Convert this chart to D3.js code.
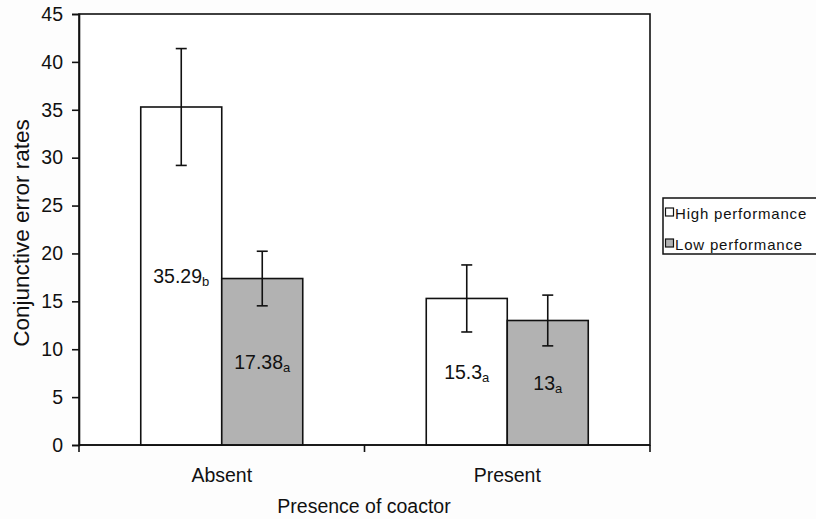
<!DOCTYPE html>
<html>
<head>
<meta charset="utf-8">
<script src="https://cdn.jsdelivr.net/npm/d3@7"></script>
<style>
  html, body { margin: 0; padding: 0; background: #fdfdfd; }
  svg { display: block; }
  text { font-family: Arial, "Liberation Sans", sans-serif; fill: #111; }
</style>
</head>
<body>
<svg id="chart" width="816" height="519"></svg>
<script>
const categories = ["Absent", "Present"];
const seriesNames = ["High performance", "Low performance"];
const seriesColors = ["#ffffff", "#b2b2b2"];
const highValues = [35.29, 15.3];
const lowValues = [17.38, 13];
const highErrors = [6.1, 3.5];
const lowErrors = [2.85, 2.65];
const highLabels = ["35.29", "15.3"];
const lowLabels = ["17.38", "13"];
const highSubs = ["b", "a"];
const lowSubs = ["a", "a"];
const yTicks = [0, 5, 10, 15, 20, 25, 30, 35, 40, 45];

const svg = d3.select("#chart");
const plotLeft = 79, plotRight = 650, plotTop = 14, plotBottom = 445;
const FONT = 19.5;

const x = d3.scaleBand().domain(categories).range([plotLeft, plotRight]).paddingInner(0).paddingOuter(0);
const y = d3.scaleLinear().domain([0, 45]).range([plotBottom, plotTop]);
const barW = 81;

// plot area
svg.append("rect").attr("x", plotLeft).attr("y", plotTop).attr("width", plotRight - plotLeft).attr("height", plotBottom - plotTop)
  .attr("fill", "#ffffff").attr("stroke", "#111").attr("stroke-width", 1.6);

const series = [
  {vals: highValues, errs: highErrors, labs: highLabels, subs: highSubs, off: -barW, color: seriesColors[0]},
  {vals: lowValues, errs: lowErrors, labs: lowLabels, subs: lowSubs, off: 0, color: seriesColors[1]}
];

series.forEach(s => {
  categories.forEach((c, i) => {
    const cx = x(c) + x.bandwidth() / 2 + s.off;
    svg.append("rect").attr("x", cx).attr("y", y(s.vals[i])).attr("width", barW)
      .attr("height", y(0) - y(s.vals[i])).attr("fill", s.color).attr("stroke", "#111").attr("stroke-width", 1.6);
  });
});

series.forEach(s => {
  categories.forEach((c, i) => {
    const mx = x(c) + x.bandwidth() / 2 + s.off + barW / 2;
    const hi = y(s.vals[i] + s.errs[i]), lo = y(s.vals[i] - s.errs[i]);
    const g = svg.append("g").attr("stroke", "#111").attr("stroke-width", 1.6);
    g.append("line").attr("x1", mx).attr("x2", mx).attr("y1", hi).attr("y2", lo);
    g.append("line").attr("x1", mx - 5.5).attr("x2", mx + 5.5).attr("y1", hi).attr("y2", hi);
    g.append("line").attr("x1", mx - 5.5).attr("x2", mx + 5.5).attr("y1", lo).attr("y2", lo);
    const t = svg.append("text").attr("x", mx).attr("y", y(s.vals[i] / 2) + 7)
      .attr("text-anchor", "middle").attr("font-size", FONT);
    t.append("tspan").text(s.labs[i]);
    t.append("tspan").attr("font-size", 13).attr("dy", 3).text(s.subs[i]);
  });
});

// y axis
const yAxis = d3.axisLeft(y).tickValues(yTicks).tickSize(7).tickPadding(9);
const gy = svg.append("g").attr("transform", `translate(${plotLeft},0)`).call(yAxis);
gy.select(".domain").attr("stroke", "#111").attr("stroke-width", 1.6);
gy.selectAll(".tick line").attr("stroke", "#111").attr("stroke-width", 1.6);
gy.selectAll(".tick text").attr("font-size", FONT).attr("font-family", "Arial, 'Liberation Sans', sans-serif").attr("fill", "#111");

// x axis: ticks at category boundaries
const boundaries = [plotLeft].concat(categories.map(c => x(c) + x.bandwidth()));
svg.append("g").selectAll("line").data(boundaries).join("line")
  .attr("x1", d => d).attr("x2", d => d).attr("y1", plotBottom).attr("y2", plotBottom + 7)
  .attr("stroke", "#111").attr("stroke-width", 1.6);
svg.append("line").attr("x1", plotLeft).attr("x2", plotRight).attr("y1", plotBottom).attr("y2", plotBottom)
  .attr("stroke", "#111").attr("stroke-width", 1.6);
svg.append("g").selectAll("text").data(categories).join("text")
  .attr("x", d => x(d) + x.bandwidth() / 2).attr("y", 482)
  .attr("text-anchor", "middle").attr("font-size", FONT).text(d => d);

// axis titles
svg.append("text").attr("x", 364).attr("y", 513).attr("text-anchor", "middle").attr("font-size", FONT)
  .text("Presence of coactor");
svg.append("text").attr("transform", `translate(28.5,233) rotate(-90)`)
  .attr("text-anchor", "middle").attr("font-size", 22.5).text("Conjunctive error rates");

// legend
const lg = svg.append("g");
lg.append("rect").attr("x", 663).attr("y", 198).attr("width", 170).attr("height", 56)
  .attr("fill", "#ffffff").attr("stroke", "#111").attr("stroke-width", 1.5);
seriesNames.forEach((n, i) => {
  const yy = 212 + i * 31;
  lg.append("rect").attr("x", 665.5).attr("y", yy - 4).attr("width", 8).attr("height", 8)
    .attr("fill", seriesColors[i]).attr("stroke", "#111").attr("stroke-width", 1.2);
  lg.append("text").attr("x", 675).attr("y", yy + 6.5).attr("font-size", 15)
    .attr("letter-spacing", 0.8).text(n);
});
</script>
</body>
</html>
